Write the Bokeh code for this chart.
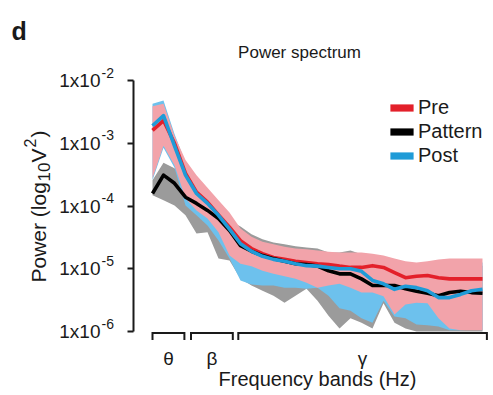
import math
from bokeh.plotting import figure
from bokeh.models import Range1d, FixedTicker, Legend, LegendItem, CustomJSTickFormatter
from bokeh.core.properties import value
from bokeh.embed import file_html
from bokeh.resources import INLINE

# ---------------- data ----------------
freq_bin = list(range(31))

pre_mean = [1.6e-3, 2.3e-3, 1.0e-3, 3.3e-4, 1.66e-4, 1.15e-4, 7.2e-5, 4.6e-5, 2.8e-5, 2.1e-5,
            1.74e-5, 1.51e-5, 1.41e-5, 1.32e-5, 1.26e-5, 1.20e-5, 1.17e-5, 1.10e-5, 1.05e-5, 1.05e-5,
            1.12e-5, 1.05e-5, 8.7e-6, 7.2e-6, 7.6e-6, 7.8e-6, 7.2e-6, 6.9e-6, 6.9e-6, 6.9e-6, 6.9e-6]
pre_upper = [3.9e-3, 4.27e-3, 1.32e-3, 5.4e-4, 3.1e-4, 1.95e-4, 1.23e-4, 7.9e-5, 4.37e-5, 3.24e-5,
             2.69e-5, 2.45e-5, 2.24e-5, 2.1e-5, 2.04e-5, 1.95e-5, 1.86e-5, 1.82e-5, 1.82e-5, 1.82e-5,
             1.74e-5, 1.62e-5, 1.45e-5, 1.32e-5, 1.26e-5, 1.32e-5, 1.41e-5, 1.45e-5, 1.45e-5, 1.45e-5, 1.45e-5]
pre_lower = [2.75e-4, 9.1e-4, 4.47e-4, 1.32e-4, 8.5e-5, 6.3e-5, 3.8e-5, 1.62e-5, 1.20e-5, 1.10e-5,
             9.3e-6, 8.3e-6, 7.6e-6, 6.9e-6, 6.0e-6, 5.0e-6, 5.4e-6, 5.75e-6, 5.0e-6, 4.17e-6,
             4.17e-6, 3.63e-6, 1.86e-6, 2.69e-6, 2.88e-6, 2.82e-6, 1.62e-6, 1.12e-6, 1.05e-6, 1.05e-6, 1.05e-6]

pattern_mean = [1.58e-4, 3.1e-4, 2.3e-4, 1.38e-4, 1.10e-4, 8.5e-5, 6.3e-5, 4.07e-5, 2.34e-5, 1.9e-5,
                1.62e-5, 1.45e-5, 1.32e-5, 1.20e-5, 1.17e-5, 1.10e-5, 9.3e-6, 8.3e-6, 8.3e-6, 6.9e-6,
                5.4e-6, 5.4e-6, 5.4e-6, 4.8e-6, 4.37e-6, 4.07e-6, 3.7e-6, 4.17e-6, 4.37e-6, 4.17e-6, 4.07e-6]
pattern_upper = [2.57e-4, 4.9e-4, 3.98e-4, 2.34e-4, 1.66e-4, 1.23e-4, 8.5e-5, 5.9e-5, 4.7e-5, 3.55e-5,
                 2.95e-5, 2.63e-5, 2.45e-5, 2.29e-5, 2.19e-5, 2.1e-5, 1.82e-5, 1.82e-5, 1.95e-5, 1.70e-5,
                 1.62e-5, 1.45e-5, 1.26e-5, 1.17e-5, 1.12e-5, 1.12e-5, 1.12e-5, 1.12e-5, 1.12e-5, 1.12e-5, 1.12e-5]
pattern_lower = [1.48e-4, 1.23e-4, 1.02e-4, 7.1e-5, 3.63e-5, 3.8e-5, 1.45e-5, 1.35e-5, 6.9e-6, 5.4e-6,
                 4.47e-6, 3.7e-6, 2.88e-6, 3.7e-6, 4.8e-6, 3.09e-6, 1.78e-6, 1.12e-6, 1.62e-6, 1.38e-6,
                 1.12e-6, 2.82e-6, 1.38e-6, 1.12e-6, 9.5e-7, 8.5e-7, 8.5e-7, 8.5e-7, 8.5e-7, 8.5e-7, 8.5e-7]

post_mean = [1.9e-3, 2.75e-3, 9.1e-4, 3.1e-4, 1.58e-4, 1.10e-4, 7.1e-5, 4.27e-5, 2.5e-5, 1.9e-5,
             1.58e-5, 1.41e-5, 1.32e-5, 1.20e-5, 1.12e-5, 1.10e-5, 1.05e-5, 1.0e-5, 1.0e-5, 9.1e-6,
             6.5e-6, 5.75e-6, 4.7e-6, 5.25e-6, 5.0e-6, 4.47e-6, 3.47e-6, 3.47e-6, 3.9e-6, 4.47e-6, 4.7e-6]
post_upper = [4.27e-3, 4.8e-3, 1.41e-3, 4.9e-4, 2.75e-4, 1.78e-4, 1.10e-4, 6.8e-5, 3.8e-5, 2.82e-5,
              2.34e-5, 2.1e-5, 1.95e-5, 1.82e-5, 1.74e-5, 1.70e-5, 1.62e-5, 1.58e-5, 1.58e-5, 1.58e-5,
              1.51e-5, 1.41e-5, 1.26e-5, 1.12e-5, 1.10e-5, 1.12e-5, 1.20e-5, 1.26e-5, 1.26e-5, 1.26e-5, 1.26e-5]
post_lower = [2.57e-4, 8.5e-4, 4.07e-4, 1.02e-4, 7.1e-5, 4.9e-5, 2.82e-5, 1.45e-5, 6.5e-6, 5.6e-6,
              5.4e-6, 5.4e-6, 5.0e-6, 5.0e-6, 4.8e-6, 5.0e-6, 3.7e-6, 2.34e-6, 2.14e-6, 1.62e-6,
              1.38e-6, 3.09e-6, 1.74e-6, 1.62e-6, 1.29e-6, 1.26e-6, 1.20e-6, 1.05e-6, 1.05e-6, 1.07e-6, 1.05e-6]

series_names = ["Pre", "Pattern", "Post"]
line_colors = ["#e3202a", "#000000", "#1f9bd7"]
band_colors = ["#f2a3aa", "#9b9b9b", "#6dc1ed"]

band_names = ["θ", "β", "γ"]
band_start = [0.0, 3.5, 7.8]
band_end = [2.9, 7.3, 30.4]

ytick_values = [1e-6, 1e-5, 1e-4, 1e-3, 1e-2]
ytick_base = "1x10"
ytick_exponents = ["-6", "-5", "-4", "-3", "-2"]

title_text = "Power spectrum"
xlabel_text = "Frequency bands (Hz)"
panel_letter = "d"
ylabel_parts = ["Power (log", "10", "V", "2", ")"]

# ---------------- layout (pixels) ----------------
W, H = 493, 395
FRAME_L = 10           # the plot frame spans the canvas; the y axis is fixed inside it
X0_PX, PX_PER_BIN = 152, 11.0
AXIS_PX = 133
YTOP_PX, PX_PER_DEC = 80, 62.75
FONT = "Liberation Sans"
INK = "#1a1a1a"


def x_at(px):
    return freq_bin[0] + (px - X0_PX) / PX_PER_BIN


def y_at(py):
    return ytick_values[-1] * 10 ** (-(py - YTOP_PX) / PX_PER_DEC)


p = figure(width=W, height=H, output_backend="svg", toolbar_location=None,
           x_range=Range1d(x_at(FRAME_L), x_at(W)), y_range=Range1d(y_at(H), y_at(0)),
           y_axis_type="log", x_axis_location=None,
           min_border_left=FRAME_L, min_border_right=0, min_border_top=0, min_border_bottom=0)
p.outline_line_color = None
p.grid.grid_line_color = None
p.background_fill_color = "white"
p.border_fill_color = "white"

yax = p.yaxis[0]
yax.fixed_location = x_at(AXIS_PX)
yax.bounds = (ytick_values[0], ytick_values[-1])
yax.ticker = FixedTicker(ticks=ytick_values, minor_ticks=[])
yax.formatter = CustomJSTickFormatter(code="return ''")
yax.major_label_standoff = 0
yax.major_tick_in = 0
yax.major_tick_out = 6
yax.minor_tick_in = 0
yax.minor_tick_out = 0
yax.axis_line_width = 2
yax.major_tick_line_width = 2
yax.axis_line_color = INK
yax.major_tick_line_color = INK

# bands are cut at the bottom of the axis, as in the reference
floor = ytick_values[0]
clip = lambda vals: [max(v, floor) for v in vals]

p.varea(x=freq_bin, y1=clip(pattern_lower), y2=clip(pattern_upper), fill_color=band_colors[1])
p.varea(x=freq_bin, y1=clip(post_lower), y2=clip(post_upper), fill_color=band_colors[2])
p.varea(x=freq_bin, y1=clip(pre_lower), y2=clip(pre_upper), fill_color=band_colors[0])

means = [pre_mean, pattern_mean, post_mean]
for m, c in zip(means, line_colors):
    p.line(freq_bin, m, line_color=c, line_width=3.6, line_join="round")

# ---------------- legend (zero-height areas give filled swatches) ----------------
swatches = [p.varea(x=freq_bin, y1=m, y2=m, fill_color=c) for m, c in zip(means, line_colors)]
legend = Legend(items=[LegendItem(label=n, renderers=[r]) for n, r in zip(series_names, swatches)],
                location=(387 - FRAME_L, H - 167), glyph_width=29, glyph_height=9,
                label_standoff=2, label_text_font_size="20px", label_text_font=FONT,
                label_text_color=INK, label_height=23, spacing=1, padding=0, margin=0,
                border_line_color=None, background_fill_alpha=0)
p.add_layout(legend)

# ---------------- texts ----------------
n = len(ytick_values)
p.text(x=[x_at(100)] * n, y=ytick_values, text=[ytick_base] * n, text_align="right",
       text_baseline="middle", text_font=value(FONT), text_font_size=value("19px"),
       text_color=INK)
p.text(x=[x_at(101)] * n, y=ytick_values, text=ytick_exponents, y_offset=-8,
       text_align="left", text_baseline="middle", text_font=value(FONT),
       text_font_size=value("14px"), text_color=INK)

# y-axis label in pieces: main text, subscript 10, V, superscript 2, closing bracket
yl_x = [x_at(38), x_at(43), x_at(38), x_at(29), x_at(38)]
yl_y = [y_at(282), y_at(181), y_at(162), y_at(147), y_at(137)]
yl_size = ["21px", "17px", "21px", "16px", "21px"]
for t, xx, yy, fs in zip(ylabel_parts, yl_x, yl_y, yl_size):
    p.text(x=[xx], y=[yy], text=[t], angle=math.pi / 2, text_align="left",
           text_baseline="alphabetic", text_font=value(FONT), text_font_size=value(fs),
           text_color=INK)

p.text(x=[x_at(299)], y=[y_at(52)], text=[title_text], text_align="center",
       text_baseline="alphabetic", text_font=value(FONT), text_font_size=value("17px"),
       text_color=INK)
p.text(x=[x_at(11)], y=[y_at(30)], text=[panel_letter], text_align="left",
       text_baseline="alphabetic", text_font=value(FONT), text_font_size=value("25px"),
       text_font_style="bold", text_color=INK)
p.text(x=[(freq_bin[0] + freq_bin[-1]) / 2], y=[y_at(378)], text=[xlabel_text],
       text_align="center", text_baseline="alphabetic", text_font=value(FONT),
       text_font_size=value("20px"), text_color=INK)

# frequency-band brackets under the axis
br_top, br_tip = y_at(332.5), y_at(339.5)
xs = [[s, s, e, e] for s, e in zip(band_start, band_end)]
ys = [[br_tip, br_top, br_top, br_tip] for _ in band_names]
p.multi_line(xs=xs, ys=ys, line_color=INK, line_width=2, line_join="miter")
p.text(x=[(s + e) / 2 for s, e in zip(band_start, band_end)], y=[y_at(358)] * len(band_names),
       text=band_names, text_align="center", text_baseline="alphabetic",
       text_font=value(FONT), text_font_size=value("19px"), text_color=INK)

open("out.html", "w").write(file_html(p, INLINE))
